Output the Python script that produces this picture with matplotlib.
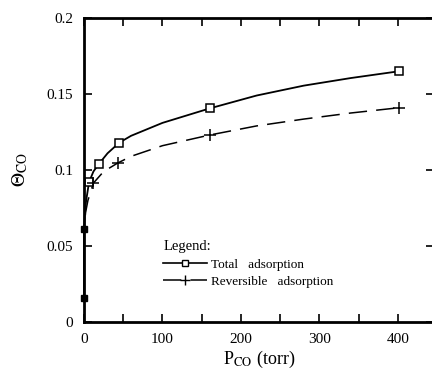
import numpy as np
import matplotlib
matplotlib.use('Agg')
import matplotlib.pyplot as plt

plt.rcParams['font.family'] = ['Liberation Serif', 'DejaVu Serif']
plt.rcParams['mathtext.fontset'] = 'stix'

# measured points
p_total = [0, 0, 6.4, 19, 45, 160, 402]
theta_total = [0.016, 0.061, 0.092, 0.104, 0.118, 0.1405, 0.165]
p_rev = [12, 43, 160, 402]
theta_rev = [0.0914, 0.1046, 0.123, 0.141]

# smooth curves
curve_total_p = [0, 0, 1, 2.5, 6.4, 12, 19, 30, 45, 60, 100, 160, 220, 280, 340, 402]
curve_total_t = [0.016, 0.061, 0.070, 0.079, 0.092, 0.099, 0.104, 0.111, 0.118, 0.1225, 0.131, 0.1405, 0.149, 0.1555, 0.1605, 0.165]
curve_rev_p = [0, 0, 2, 5, 12, 25, 43, 60, 100, 160, 220, 280, 340, 402]
curve_rev_t = [0.016, 0.061, 0.072, 0.080, 0.0914, 0.099, 0.1046, 0.109, 0.116, 0.123, 0.129, 0.1335, 0.1375, 0.141]

fig = plt.figure(figsize=(4.32, 3.81), dpi=100)
ax = fig.add_axes([84/432, 59/381, 350/432, 304/381])

ax.plot(curve_total_p, curve_total_t, color='black', lw=1.3, clip_on=False)
ax.plot(curve_rev_p, curve_rev_t, color='black', lw=1.1, dashes=(12, 6), clip_on=False)
ax.plot(p_total[:2], theta_total[:2], 's', color='black', ms=5, clip_on=False, zorder=5)
ax.plot(p_total[2:], theta_total[2:], 's', mfc='white', mec='black', mew=1.1, ms=5.5)
ax.plot(p_rev, theta_rev, '+', color='black', ms=8, mew=1.1)

# legend handles
ax.plot([], [], color='black', lw=1.2, marker='s', mfc='white', mec='black', ms=5,
        label='Total   adsorption')
ax.plot([], [], color='black', lw=1.1, dashes=(12, 6), marker='+', ms=7,
        label='Reversible   adsorption')
leg = ax.legend(loc='upper left', bbox_to_anchor=(0.2, 0.3), frameon=False,
                title='Legend:', alignment='left', fontsize=9.5,
                handlelength=3.3, handletextpad=0.3, labelspacing=0.4,
                borderpad=0.2)
leg.get_title().set_fontsize(10.5)

ax.set_xlim(0, 446)
ax.set_ylim(0, 0.2)
ax.set_xticks([0, 100, 200, 300, 400])
ax.set_xticklabels(['0', '100', '200', '300', '400'])
ax.set_xticks(np.arange(50, 450, 100), minor=True)
ax.set_yticks([0, 0.05, 0.1, 0.15, 0.2])
ax.set_yticklabels(['0', '0.05', '0.1', '0.15', '0.2'])
ax.tick_params(which='both', direction='in', top=True, right=True,
               length=6, width=1.2, labelsize=11, pad=8)

for side in ['left', 'bottom', 'top']:
    ax.spines[side].set_linewidth(2)
ax.spines['right'].set_visible(False)

ax.set_xlabel(r'P$_{\mathrm{CO}}$ (torr)', fontsize=13, labelpad=2)
ax.set_ylabel(r'$\Theta_{\mathrm{CO}}$', fontsize=14, labelpad=12)

plt.savefig('out.png', dpi=100)
